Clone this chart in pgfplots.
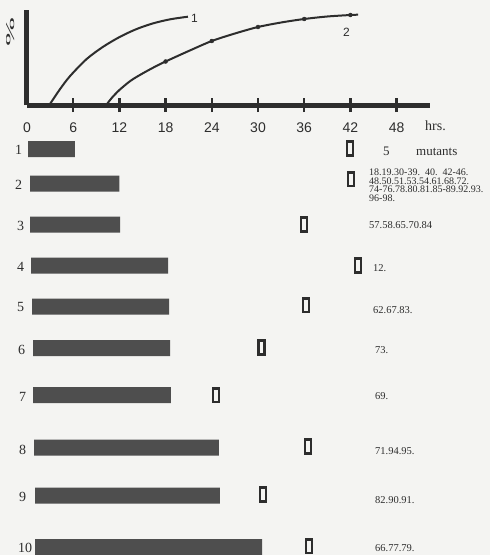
\documentclass[border=0pt]{standalone}
\usepackage{pgfplots}
\pgfplotsset{compat=1.18}
\usepackage{graphicx}
\usepackage{fontspec}
\setmainfont{Liberation Serif}
\newfontfamily\sansf{Liberation Sans}
\definecolor{ink}{RGB}{45,45,45}
\definecolor{barc}{RGB}{78,78,78}
\definecolor{paper}{RGB}{244,244,242}

\begin{document}
\begin{tikzpicture}[x=1pt,y=1pt]
\path[use as bounding box] (0,0) rectangle (490,-555);
\fill[paper] (0,0) rectangle (490,-555);

% ---------- top chart ----------
\begin{axis}[
  x=7.7pt, y=1pt, xmin=0, xmax=52.3, ymin=0, ymax=95,
  at={(27pt,-105pt)}, anchor=south west,
  axis x line=bottom, axis y line=left,
  axis line style={line width=5pt, ink, -},
  xtick={6,12,...,48}, ytick=\empty,
  extra x ticks={0}, extra x tick style={major tick style={draw=none}},
  major tick length=14pt, tick align=center,
  xtick style={line width=2.5pt, ink},
  xticklabel style={font=\sansf\fontsize{14}{14}\selectfont, text=ink, anchor=base, yshift=-20pt},
  /pgf/number format/assume math mode=true,
  clip=false,
]
\addplot[ink, line width=2pt, smooth] coordinates {
  (2.9,0) (4.3,16) (5.6,29) (7.75,46) (9.9,58.3) (12.1,68.3) (14.25,76) (16.4,81.7) (18.6,85.7) (20.9,88.3)};
\addplot[ink, line width=2pt, smooth] coordinates {
  (10.3,0) (11,7) (12,15) (13.5,24.5) (15,31.5) (16.5,37.8) (18,43.5) (21,54) (24,64) (27,71.5) (30,78) (33,82.5) (36,86) (39,88.5) (42,90) (43,90.3)};
\addplot[only marks, mark=*, mark size=2pt, ink] coordinates {
  (18,43.5) (24,64) (30,78) (36,86) (42,90)};
\node[font=\sansf\fontsize{12}{12}\selectfont, text=ink] at (axis cs:21.75,87) {1};
\node[font=\sansf\fontsize{12}{12}\selectfont, text=ink] at (axis cs:41.5,73) {2};
\end{axis}
\node[anchor=base west, inner sep=0, font=\fontsize{14}{14}\selectfont, text=ink] at (425,-130) {hrs.};
\node[rotate=90, inner sep=0, font=\fontsize{12}{12}\selectfont, text=ink] at (11,-32) {\scalebox{2.9}[1]{\%}};

% ---------- bars ----------
\begin{axis}[
  x=7.7pt, y=1pt, xmin=0, xmax=60, ymin=-560, ymax=-120,
  at={(27pt,-560pt)}, anchor=south west, hide axis, clip=false,
  xbar stacked, bar width=16,
]
\addplot[draw=none, fill=none] coordinates {
  (0.13,-149) (0.39,-183.5) (0.39,-224.5) (0.52,-265.5) (0.65,-306.5)
  (0.78,-348) (0.78,-395) (0.91,-447.5) (1.04,-495.5) (1.04,-547)};
\addplot[draw=none, fill=barc] coordinates {
  (6.1,-149) (11.6,-183.5) (11.7,-224.5) (17.8,-265.5) (17.8,-306.5)
  (17.8,-348) (17.9,-395) (24,-447.5) (24,-495.5) (29.5,-547)};
\end{axis}

% ---------- open markers ----------
\begin{axis}[
  x=7.7pt, y=1pt, xmin=0, xmax=60, ymin=-560, ymax=-120,
  at={(27pt,-560pt)}, anchor=south west, hide axis, clip=false,
]
\addplot[only marks, mark=square, mark size=6.8pt,
  mark options={xscale=0.46, line width=2.6pt, draw=ink, fill=none}] coordinates {
  (41.95,-148.5) (42.08,-179) (35.97,-224.5) (42.99,-265.5) (36.23,-305)
  (30.45,-347.5) (24.55,-395) (36.49,-446.5) (30.65,-494.5) (36.62,-546)};
\end{axis}

% ---------- row labels ----------
\foreach \lx/\ly/\t in {15/150/1, 15/185/2, 17/225.5/3, 17/267/4, 17/307/5,
  18/349.5/6, 19/396.5/7, 19/449.5/8, 19/496.5/9, 18/547.5/10}
  \node[anchor=west, inner sep=0, font=\fontsize{14}{14}\selectfont, text=ink] at (\lx,-\ly) {\t};

% ---------- right text ----------
\node[anchor=base west, inner sep=0, font=\fontsize{13}{13}\selectfont, text=ink] at (383,-155) {5};
\node[anchor=base west, inner sep=0, font=\fontsize{13}{13}\selectfont, text=ink] at (416,-155) {mutants};
\node[anchor=north west, inner sep=0, align=left, font=\fontsize{10}{8.5}\selectfont, text=ink] at (369,-169)
  {18.19.30-39.\ \ 40.\ \ 42-46.\\48.50.51.53.54.61.68.72.\\74-76.78.80.81.85-89.92.93.\\96-98.};
\foreach \lx/\ly/\t in {369/225/57.58.65.70.84, 373/268.5/12., 373/310/62.67.83., 375/350/73.,
  375/396.5/69., 375/451.5/71.94.95., 375/500/82.90.91., 375/548.5/66.77.79.}
  \node[anchor=west, inner sep=0, font=\fontsize{10.5}{10.5}\selectfont, text=ink] at (\lx,-\ly) {\t};
\end{tikzpicture}
\end{document}
